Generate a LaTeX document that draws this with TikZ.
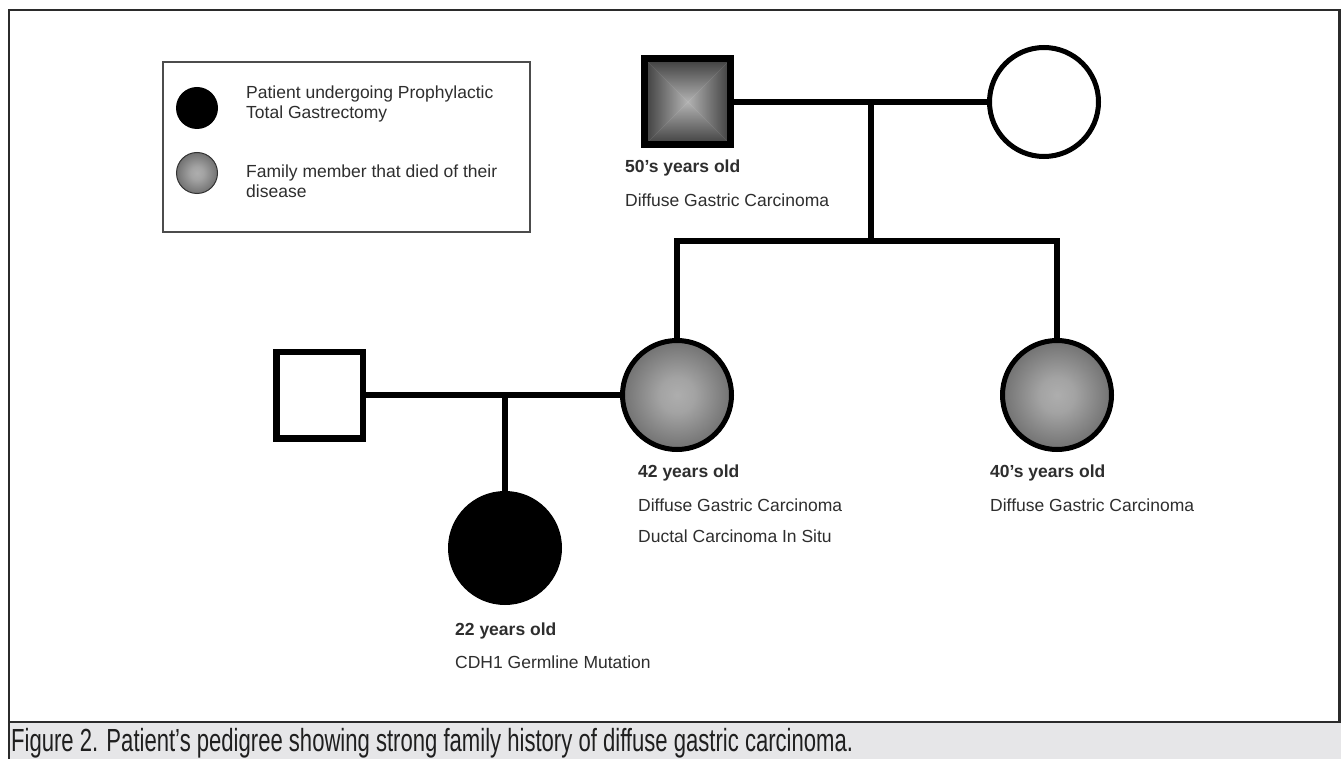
\documentclass[tikz,border=0pt]{standalone}
\usepackage{fontspec}
\setmainfont{Liberation Sans}
\pgfdeclarelayer{bg}
\pgfsetlayers{bg,main}
\pgfdeclareradialshading{pedball}{\pgfpoint{0bp}{0bp}}{color(0bp)=(black!32); color(8bp)=(black!36); color(50bp)=(black!84)}
\definecolor{framec}{HTML}{2B2B2B}
\definecolor{bandc}{HTML}{E6E6E8}
\definecolor{txtc}{HTML}{2E2E2E}
\begin{document}
\begin{tikzpicture}[x=1pt,y=-1pt,
  pline/.style={line width=5.5pt, black, line join=miter, line cap=rect},
  sqnode/.style={rectangle, draw=black, line width=7pt, minimum size=86pt, inner sep=0pt},
  circnode/.style={circle, draw=black, line width=5pt, minimum size=109pt, inner sep=0pt},
  ballnode/.style={circnode, shade, shading=pedball},
  lbl/.style={anchor=base west, inner sep=0pt, text=txtc, font=\fontsize{17.5}{20}\selectfont},
  lblb/.style={lbl, font=\fontsize{17.5}{20}\selectfont\bfseries},
  legtxt/.style={anchor=base west, inner sep=0pt, text=txtc, font=\fontsize{17.5}{20}\selectfont}
]
\useasboundingbox (0,0) rectangle (1341,759);
\begin{pgfonlayer}{bg}
\fill[white] (0,0) rectangle (1341,759);
\end{pgfonlayer}
% caption band and frame
\fill[bandc] (9,722) rectangle (1341,759);
\draw[framec, line width=2.2pt] (9,759) -- (9,10) -- (1339.5,10) -- (1339.5,722);
\draw[framec, line width=2.6pt] (9,722) -- (1341,722);
\node[anchor=base west, inner sep=0pt, text=black!88, font=\fontsize{32}{36}\selectfont] (cap) at (11,751)
  {\scalebox{0.69}[1]{Figure 2. Patient’s pedigree showing strong family history of diffuse gastric carcinoma.}};

% legend
\node[draw=black!70, line width=1.6pt, minimum width=367pt, minimum height=170pt, inner sep=0pt] (legend) at (346.5,147) {};
\node[circle, fill=black, minimum size=42pt, inner sep=0pt] (legblack) at (197,108) {};
\node[circle, draw=black!80, line width=1pt, shade, shading=pedball, minimum size=41pt, inner sep=0pt] (leggray) at (197,173) {};
\node[legtxt] (leg1a) at (246,99) {Patient undergoing Prophylactic};
\node[legtxt] (leg1b) at (246,119) {Total Gastrectomy};
\node[legtxt] (leg2a) at (246,178) {Family member that died of their};
\node[legtxt] (leg2b) at (246,198) {disease};

% generation I
\node[sqnode] (gf) at (687.5,102) {};
\node[circnode] (gm) at (1044,102) {};
% generation II
\node[sqnode, line width=6.5pt, minimum size=86.5pt] (fa) at (319.5,395) {};
\node[ballnode] (mo) at (677,395) {};
\node[ballnode] (au) at (1057,395) {};
% generation III
\node[circnode, fill=black] (pt) at (505,548) {};

% shading of the grandfather square (pyramid gradient)
\begin{pgfonlayer}{bg}
\begin{scope}[shift={(gf.center)}]
  \shade[top color=black!76, bottom color=black!30] (-43,-43) -- (43,-43) -- (0,0) -- cycle;
  \shade[top color=black!30, bottom color=black!76] (-43,43) -- (43,43) -- (0,0) -- cycle;
  \shade[left color=black!76, right color=black!30] (-43,-43) -- (-43,43) -- (0,0) -- cycle;
  \shade[left color=black!30, right color=black!76] (43,-43) -- (43,43) -- (0,0) -- cycle;
\end{scope}
\end{pgfonlayer}

% connectors
\coordinate (c1) at (871,102);
\coordinate (c2) at (871,241);
\coordinate (c3) at (505,395);
\draw[pline] (gf.east) -- (gm.west);
\draw[pline] (c1) -- (c2);
\draw[pline, line cap=butt] (mo.north) |- (c2) -| (au.north);
\draw[pline] (fa.east) -- (mo.west);
\draw[pline] (c3) -- (pt.north);

% labels
\node[lblb] (gfa) at (625,173) {50’s years old};
\node[lbl]  (gfd) at (625,207) {Diffuse Gastric Carcinoma};
\node[lblb] (moa) at (638,477) {42 years old};
\node[lbl]  (mod1) at (638,511) {Diffuse Gastric Carcinoma};
\node[lbl]  (mod2) at (638,542) {Ductal Carcinoma In Situ};
\node[lblb] (aua) at (990,477) {40’s years old};
\node[lbl]  (aud) at (990,511) {Diffuse Gastric Carcinoma};
\node[lblb] (pta) at (455,635) {22 years old};
\node[lbl]  (ptd) at (455,668) {CDH1 Germline Mutation};
\end{tikzpicture}
\end{document}
